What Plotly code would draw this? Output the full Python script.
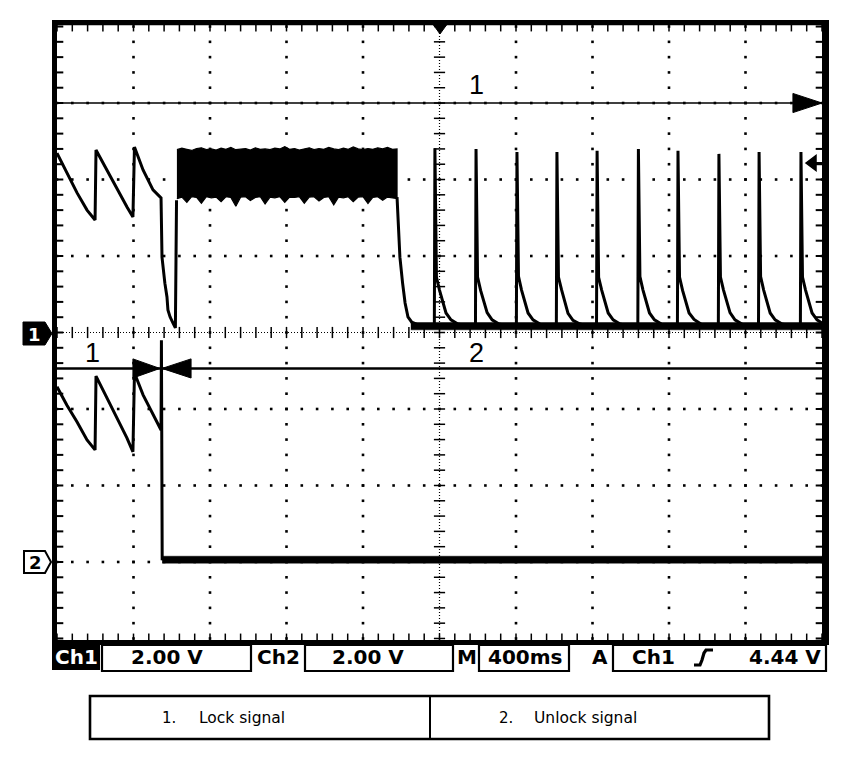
import numpy as np
import plotly.graph_objects as go

# ---------------- data (time in ms, volts) ----------------
ms_per_div = 400
volts_per_div = 2.0
ch2_offset_div = -3

# Channel 1 : lock signal (None splits the line around the noisy burst)
ch1_t = [-2000, -1948, -1895, -1843, -1801, -1796, -1739, -1686, -1634, -1603, -1595, -1550, -1498, -1456,
         -1451, -1436, -1425, -1420, -1409, -1394, -1381, -1375,
         None,
         -222, -217, -207, -193, -180, -165, -145, -112, -60, -27,
         -24, -16, 0, 18, 34, 60, 96, 150, 188,
         191, 199, 215, 233, 249, 275, 311, 360, 402,
         405, 413, 429, 447, 463, 489, 525, 570, 611,
         614, 622, 638, 656, 672, 698, 734, 780, 821,
         824, 832, 848, 866, 882, 908, 944, 990, 1037,
         1040, 1048, 1064, 1082, 1098, 1124, 1160, 1200, 1244,
         1247, 1255, 1271, 1289, 1305, 1331, 1367, 1410, 1458,
         1461, 1469, 1485, 1503, 1519, 1545, 1581, 1620, 1668,
         1671, 1679, 1695, 1713, 1729, 1755, 1791, 1840, 1887,
         1890, 1898, 1914, 1932, 1948, 1974, 2000]
ch1_v = [4.69, 4.17, 3.65, 3.20, 2.94, 4.77, 4.25, 3.73, 3.28, 3.02, 4.85, 4.25, 3.73, 3.52,
         1.97, 1.29, 0.93, 0.59, 0.41, 0.25, 0.12, 3.46,
         None,
         3.54, 2.99, 1.97, 1.29, 0.77, 0.41, 0.27, 0.20, 0.17, 0.16,
         4.82, 1.45, 1.11, 0.77, 0.51, 0.33, 0.22, 0.17, 0.16,
         4.80, 1.45, 1.10, 0.77, 0.52, 0.33, 0.22, 0.17, 0.16,
         4.72, 1.47, 1.11, 0.78, 0.51, 0.33, 0.22, 0.17, 0.16,
         4.72, 1.45, 1.12, 0.77, 0.50, 0.32, 0.22, 0.17, 0.16,
         4.75, 1.44, 1.11, 0.77, 0.51, 0.33, 0.22, 0.17, 0.16,
         4.80, 1.46, 1.11, 0.76, 0.51, 0.33, 0.22, 0.17, 0.16,
         4.75, 1.45, 1.10, 0.77, 0.51, 0.34, 0.22, 0.17, 0.16,
         4.67, 1.45, 1.11, 0.77, 0.52, 0.33, 0.22, 0.17, 0.16,
         4.72, 1.46, 1.11, 0.77, 0.51, 0.33, 0.22, 0.17, 0.16,
         4.72, 1.45, 1.11, 0.77, 0.51, 0.33, 0.25]

# Channel 1 noisy burst envelope
burst_t = [-1373, -1347, -1321, -1296, -1270, -1245, -1219, -1193, -1168, -1142,
           -1117, -1091, -1065, -1040, -1014, -989, -963, -937, -912, -886,
           -861, -835, -809, -784, -758, -733, -707, -681, -656, -630,
           -605, -579, -553, -528, -502, -477, -451, -425, -400, -374,
           -349, -323, -297, -272, -246, -222]
burst_hi = [4.78, 4.82, 4.79, 4.76, 4.81, 4.83, 4.78, 4.80, 4.77, 4.82,
            4.79, 4.84, 4.78, 4.80, 4.81, 4.77, 4.83, 4.79, 4.80, 4.78,
            4.82, 4.80, 4.86, 4.79, 4.81, 4.77, 4.80, 4.83, 4.78, 4.81,
            4.79, 4.84, 4.80, 4.78, 4.82, 4.79, 4.85, 4.80, 4.78, 4.81,
            4.79, 4.83, 4.80, 4.84, 4.79, 4.80]
burst_lo = [3.50, 3.54, 3.40, 3.55, 3.53, 3.38, 3.55, 3.52, 3.54, 3.42,
            3.55, 3.53, 3.30, 3.54, 3.55, 3.45, 3.53, 3.55, 3.36, 3.54,
            3.52, 3.55, 3.40, 3.54, 3.53, 3.55, 3.38, 3.54, 3.55, 3.44,
            3.53, 3.55, 3.34, 3.54, 3.52, 3.55, 3.42, 3.54, 3.55, 3.37,
            3.53, 3.55, 3.46, 3.54, 3.52, 3.50]

# Channel 1 noisy baseline band
ch1_base_t = [-150, 2000]
ch1_base_hi = [0.26, 0.26]
ch1_base_lo = [0.07, 0.07]

# Channel 2 : unlock signal
ch2_t = [-2000, -1948, -1895, -1843, -1801, -1796, -1739, -1686, -1634, -1603, -1595, -1550, -1498, -1456,
         -1454, -1450, -1400, 2000]
ch2_v = [4.58, 4.10, 3.66, 3.19, 2.93, 4.86, 4.29, 3.76, 3.24, 2.88, 4.94, 4.37, 3.84, 3.45,
         5.80, 0.08, 0.06, 0.06]
ch2_base_t = [-1450, 2000]
ch2_base_hi = [0.15, 0.15]
ch2_base_lo = [-0.03, -0.03]

# annotation marks (ch1 volts)
lock_level = 6.0
marker_line_level = -0.94

status_texts = ["Ch1", "2.00 V", "Ch2", "2.00 V", "M", "400ms", "A", "Ch1", "4.44 V"]
legend_items = ["1.", "Lock signal", "2.", "Unlock signal"]

# ---------------- layout geometry ----------------
W_FIG, H_FIG = 864, 758
L, T, PW, PH = 57, 25, 765, 615
half_v = 4.02 * volts_per_div
x_rng = [-5 * ms_per_div, 5 * ms_per_div]
y1_rng = [-half_v, half_v]
y2_rng = [-half_v - ch2_offset_div * volts_per_div, half_v - ch2_offset_div * volts_per_div]


def PX(x):
    return (x - L) / PW


def PY(y):
    return (T + PH - y) / PH


fig = go.Figure()

# ---- graticule ----
minor_x = np.arange(x_rng[0], x_rng[1] + 1, ms_per_div / 5)
minor_y = np.arange(-4 * volts_per_div, 4 * volts_per_div + 1e-6, volts_per_div / 5)
gx, gy = [], []
for k in [-4, -3, -2, -1, 1, 2, 3, 4]:
    for yv in minor_y:
        gx.append(k * ms_per_div)
        gy.append(yv)
for j in [-3, -2, -1, 1, 2, 3]:
    for xv in minor_x:
        gx.append(xv)
        gy.append(j * volts_per_div)
fig.add_trace(go.Scatter(x=gx, y=gy, mode="markers", hoverinfo="skip",
                         marker=dict(symbol="square", size=2.6, color="black", line=dict(width=0))))
# center ticks
fig.add_trace(go.Scatter(x=[0] * len(minor_y), y=minor_y, mode="markers", hoverinfo="skip",
                         marker=dict(symbol="line-ew", size=8, line=dict(width=1.5, color="black"))))
fig.add_trace(go.Scatter(x=minor_x, y=[0] * len(minor_x), mode="markers", hoverinfo="skip",
                         marker=dict(symbol="line-ns", size=8, line=dict(width=1.5, color="black"))))
# edge ticks
fig.add_trace(go.Scatter(x=[x_rng[0]] * len(minor_y) + [x_rng[1]] * len(minor_y), y=list(minor_y) * 2,
                         mode="markers", hoverinfo="skip",
                         marker=dict(symbol="line-ew", size=9, line=dict(width=2, color="black"))))
fig.add_trace(go.Scatter(x=list(minor_x) * 2, y=[4 * volts_per_div] * len(minor_x) + [-4 * volts_per_div] * len(minor_x),
                         mode="markers", hoverinfo="skip",
                         marker=dict(symbol="line-ns", size=7, line=dict(width=1.5, color="black"))))

# ---- signals ----
fig.add_trace(go.Scatter(x=burst_t + burst_t[::-1], y=burst_hi + burst_lo[::-1], mode="lines",
                         fill="toself", fillcolor="black", line=dict(color="black", width=1.2), hoverinfo="skip"))
fig.add_trace(go.Scatter(x=ch1_base_t + ch1_base_t[::-1], y=ch1_base_hi + ch1_base_lo[::-1], mode="lines",
                         fill="toself", fillcolor="black", line=dict(color="black", width=0.5), hoverinfo="skip"))
fig.add_trace(go.Scatter(x=ch1_t, y=ch1_v, mode="lines", connectgaps=False,
                         line=dict(color="black", width=3), hoverinfo="skip"))
fig.add_trace(go.Scatter(x=ch2_base_t + ch2_base_t[::-1], y=ch2_base_hi + ch2_base_lo[::-1], mode="lines",
                         fill="toself", fillcolor="black", line=dict(color="black", width=0.5),
                         yaxis="y2", hoverinfo="skip"))
fig.add_trace(go.Scatter(x=ch2_t, y=ch2_v, mode="lines", line=dict(color="black", width=3),
                         yaxis="y2", hoverinfo="skip"))

shapes = []
# center dotted cross
shapes.append(dict(type="line", xref="x", yref="y", x0=0, x1=0, y0=y1_rng[0], y1=y1_rng[1],
                   line=dict(color="black", width=1.2, dash="1px,2px"), layer="below"))
shapes.append(dict(type="line", xref="x", yref="y", x0=x_rng[0], x1=x_rng[1], y0=0, y1=0,
                   line=dict(color="black", width=1.2, dash="1px,2px"), layer="below"))
# annotation lines & arrows
shapes.append(dict(type="line", xref="x", yref="y", x0=x_rng[0], x1=1860, y0=lock_level, y1=lock_level,
                   line=dict(color="black", width=1.5)))
shapes.append(dict(type="path", xref="x", yref="y",
                   path=f"M1848,{lock_level + 0.25} L2000,{lock_level} L1848,{lock_level - 0.25} Z",
                   fillcolor="black", line=dict(color="black", width=1)))
m = marker_line_level
shapes.append(dict(type="line", xref="x", yref="y", x0=x_rng[0], x1=x_rng[1], y0=m, y1=m,
                   line=dict(color="black", width=2.6)))
shapes.append(dict(type="path", xref="x", yref="y",
                   path=f"M-1603,{m + 0.25} L-1462,{m} L-1603,{m - 0.25} Z",
                   fillcolor="black", line=dict(color="black", width=1)))
shapes.append(dict(type="path", xref="x", yref="y",
                   path=f"M-1299,{m + 0.25} L-1451,{m} L-1299,{m - 0.25} Z",
                   fillcolor="black", line=dict(color="black", width=1)))

# screen frame
def prect(x0, y0, x1, y1, **kw):
    d = dict(type="rect", xref="paper", yref="paper", x0=PX(x0), x1=PX(x1), y0=PY(y1), y1=PY(y0), layer="above")
    d.update(kw)
    return d

for (a, b, c, d) in [(52, 20, 829, 25.3), (52, 640, 829, 645), (52, 20, 57, 645), (822, 20, 829, 645)]:
    shapes.append(prect(a, b, c, d, fillcolor="black", line=dict(width=0)))

# trigger markers
def ppath(pts, **kw):
    p = "M" + " L".join(f"{PX(x):.5f},{PY(y):.5f}" for x, y in pts) + " Z"
    d = dict(type="path", xref="paper", yref="paper", path=p, layer="above")
    d.update(kw)
    return d

shapes.append(ppath([(433.5, 25), (446.5, 25), (440, 34)], fillcolor="black", line=dict(color="black", width=1)))
shapes.append(ppath([(806, 163), (816, 155.5), (816, 170.5)], fillcolor="black", line=dict(color="black", width=1.5)))
shapes.append(dict(type="line", xref="paper", yref="paper", x0=PX(814), x1=PX(822), y0=PY(163), y1=PY(163),
                   line=dict(color="black", width=2), layer="above"))

# channel ground markers
shapes.append(ppath([(23, 322), (45, 322), (52, 333.5), (45, 345), (23, 345)], fillcolor="black",
                    line=dict(color="black", width=1)))
shapes.append(ppath([(24, 551), (45, 551), (51, 562), (45, 573), (24, 573)], fillcolor="white",
                    line=dict(color="black", width=2)))

# status bar
shapes.append(prect(52, 645, 100, 670, fillcolor="black", line=dict(width=0)))
for (a, c) in [(101, 252), (304, 454), (478, 570), (612, 827)]:
    shapes.append(prect(a + 1, 645, c - 1, 671, fillcolor="rgba(0,0,0,0)", line=dict(color="black", width=2.2)))
# rising edge symbol
edge_pts = [(694, 665), (700, 665), (702, 660), (704, 653), (706, 650), (713, 650)]
shapes.append(dict(type="path", xref="paper", yref="paper",
                   path="M" + " L".join(f"{PX(x):.5f},{PY(y):.5f}" for x, y in edge_pts),
                   line=dict(color="black", width=3.2), layer="above"))

# legend table
shapes.append(prect(90, 696, 769, 739, fillcolor="rgba(0,0,0,0)", line=dict(color="black", width=2.6)))
shapes.append(dict(type="line", xref="paper", yref="paper", x0=PX(430), x1=PX(430), y0=PY(696), y1=PY(739),
                   line=dict(color="black", width=2)))

annotations = []


def ptext(txt, x, y, size, color="black", bold=False, family="DejaVu Sans", xanchor="center"):
    annotations.append(dict(text=txt, xref="paper", yref="paper", x=PX(x), y=PY(y), showarrow=False,
                            xanchor=xanchor, yanchor="middle",
                            font=dict(family=family, size=size, color=color, weight="bold" if bold else "normal")))


# trace labels
for txt, t, v in [("1", 196, 6.47), ("1", -1812, -0.54), ("2", 196, -0.54)]:
    annotations.append(dict(text=txt, xref="x", yref="y", x=t, y=v, showarrow=False,
                            font=dict(family="Liberation Sans", size=27, color="black")))

ptext("1", 34, 334, 18, color="white", bold=True)
ptext("2", 35, 562.5, 18, color="black", bold=True)

status_x = [76, 167, 278, 368, 467, 525, 600, 653, 785]
for txt, x in zip(status_texts, status_x):
    ptext(txt, x, 657, 20, color="white" if x == 76 else "black", bold=True)

ptext(legend_items[0], 160, 718, 15, xanchor="left")
ptext(legend_items[1], 197, 718, 15.5, xanchor="left")
ptext(legend_items[2], 497, 718, 15, xanchor="left")
ptext(legend_items[3], 532, 718, 15.5, xanchor="left")

fig.update_layout(
    width=W_FIG, height=H_FIG, autosize=False,
    margin=dict(l=L, r=W_FIG - L - PW, t=T, b=H_FIG - T - PH, pad=0),
    paper_bgcolor="white", plot_bgcolor="white", showlegend=False,
    xaxis=dict(range=x_rng, visible=False, fixedrange=True),
    yaxis=dict(range=y1_rng, visible=False, fixedrange=True),
    yaxis2=dict(range=y2_rng, visible=False, overlaying="y", fixedrange=True),
    shapes=shapes, annotations=annotations,
)

fig.write_html("out.html", config={"displayModeBar": False},
               post_script="document.body.style.margin='0';")
